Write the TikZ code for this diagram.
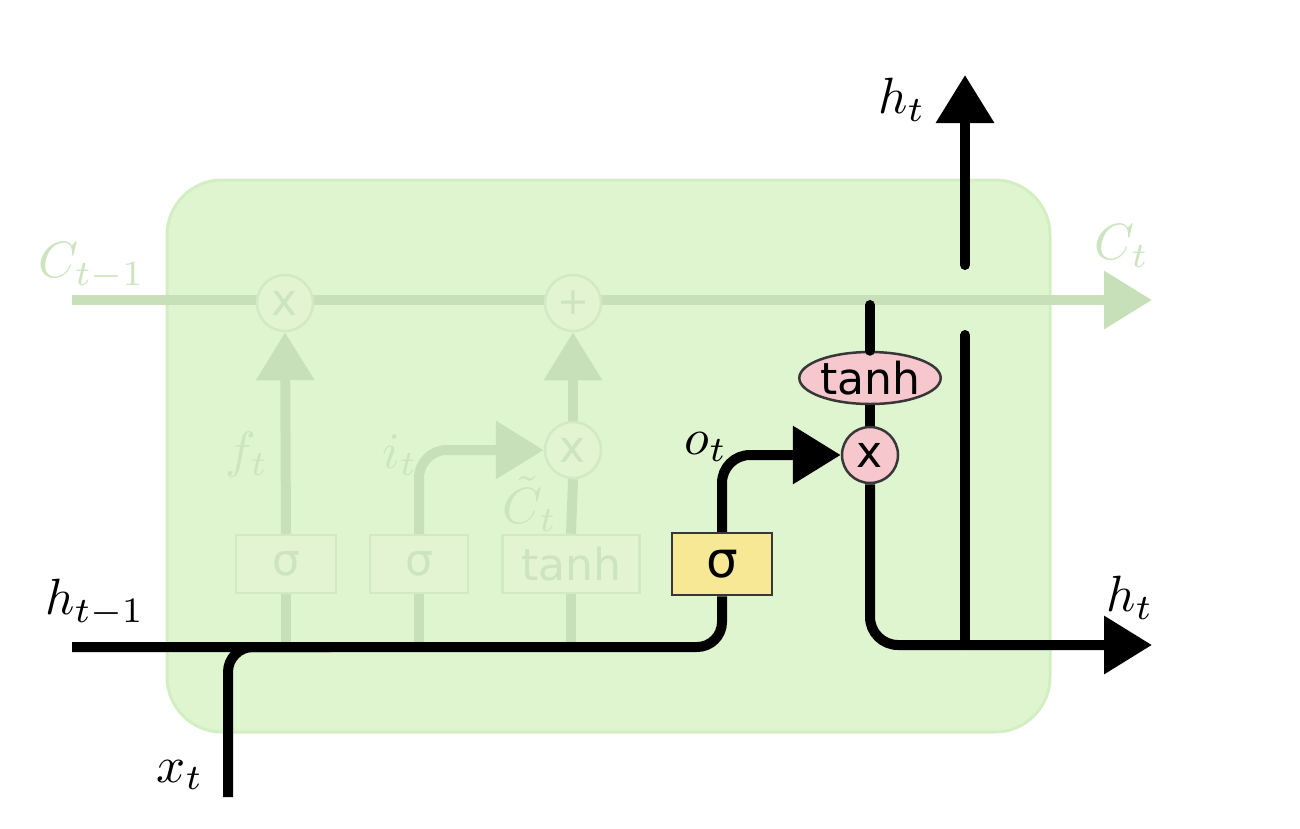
\documentclass[tikz,border=0pt]{standalone}
\usepackage{fontspec}
\newfontfamily\dv{DejaVu Sans}
\usetikzlibrary{arrows.meta,shapes.geometric}
\definecolor{bgfill}{RGB}{223,245,208}
\definecolor{bgdraw}{RGB}{212,238,195}
\definecolor{fadeline}{RGB}{200,224,186}
\definecolor{fadetext}{RGB}{204,228,192}
\definecolor{fadebox}{RGB}{226,244,210}
\definecolor{fadeborder}{RGB}{210,234,196}
\definecolor{gateyellow}{RGB}{246,232,148}
\definecolor{oppink}{RGB}{246,200,206}
\definecolor{edge}{RGB}{55,55,55}
\newcommand\slab{\fontsize{44}{50}\selectfont\dv}
\tikzset{
  blk/.style={line width=10pt, black},
  fad/.style={line width=10pt, fadeline},
  tip/.style={-{Triangle[length=48pt,width=56pt]}},
  cellbox/.style={fill=bgfill, draw=bgdraw, line width=3pt, rounded corners=55pt, minimum width=883pt, minimum height=552pt, inner sep=0pt},
  fadegate/.style={fill=fadebox, draw=fadeborder, line width=2.5pt, minimum height=58pt, inner sep=0pt, text=fadetext, font=\slab},
  fadeop/.style={circle, fill=fadebox, draw=fadeborder, line width=2.5pt, minimum size=56pt, inner sep=0pt, text=fadetext, font=\slab},
  gate/.style={fill=gateyellow, draw=edge, line width=2.5pt, minimum width=100pt, minimum height=62pt, inner sep=0pt, font=\fontsize{50}{56}\selectfont\dv},
  pop/.style={circle, fill=oppink, draw=edge, line width=2.5pt, minimum size=56pt, inner sep=0pt, font=\slab},
  pell/.style={ellipse, fill=oppink, draw=edge, line width=2.5pt, minimum width=137pt, minimum height=52pt, inner sep=0pt, font=\slab},
  lab/.style={scale=5.1, inner sep=0pt},
  fadelab/.style={scale=5.1, inner sep=0pt, text=fadetext},
}
\begin{document}
\begin{tikzpicture}[x=1pt,y=-1pt]
\useasboundingbox (0,0) rectangle (1300,828);
\node[cellbox] (cell) at (608.5,456) {};

% coordinates
\coordinate (cin) at (72,300);
\coordinate (cout) at (1152,300);
\coordinate (hin) at (72,647);
\coordinate (hout) at (1152,645);
\coordinate (xin) at (228,797);
\coordinate (xj) at (330,647);
\coordinate (cj) at (870,305);
\coordinate (hj) at (965,645);
\coordinate (hgapb) at (965,335);
\coordinate (hgapt) at (965,265);
\coordinate (htop) at (965,75);

% faded cell-state line
\draw[fad,tip] (cin) -- (cout);

% faded nodes
\node[fadegate, minimum width=100pt] (fs) at (286,564) {σ};
\node[fadegate, minimum width=98pt] (is) at (419,564) {σ};
\node[fadegate, minimum width=137pt] (ct) at (571,564) {tanh};
\node[fadeop] (fx) at (285,303) {x};
\node[fadeop, font=\fontsize{38}{44}\selectfont\dv] (ad) at (573,303) {+};
\node[fadeop] (ix) at (573,450) {x};

% faded connectors
\draw[fad] (fs.south |- hin) -- (fs.south);
\draw[fad] (is.south |- hin) -- (is.south);
\draw[fad] (ct.south |- hin) -- (ct.south);
\draw[fad,tip] (fs.north) -- (fx.south);
\draw[fad,tip,rounded corners=28pt] (is.north) |- (ix.west);
\draw[fad] (ct.north) -- (ix.south);
\draw[fad,tip] (ix.north) -- (ad.south);

% faded labels
\node[fadelab] (lc0) at (92,266) {$C_{t-1}$};
\node[fadelab] (lc1) at (1122,246) {$C_t$};
\node[fadelab] (lf) at (247,455) {$f_t$};
\node[fadelab] (li) at (400,455) {$i_t$};
\node[fadelab] (lct) at (530,504) {$\tilde{C}_t$};

% active nodes
\node[gate] (os) at (722,564) {σ};
\node[pell] (th) at (870,378) {tanh};
\node[pop] (ox) at (870,455) {x};

% black connectors
\draw[blk,rounded corners=25pt] (hin) -| (os.south);
\draw[blk,rounded corners=25pt] (xin) |- (xj);
\draw[blk,tip,rounded corners=28pt] (os.north) |- (ox.west);
\draw[blk,line cap=round] (cj) -- (th.north);
\draw[blk] (th.south) -- (ox.north);
\draw[blk,tip,rounded corners=28pt] (ox.south) |- (hout);
\draw[blk,line cap=round] (hj) -- (hgapb);
\draw[blk,tip,line cap=round] (hgapt) -- (htop);

% labels
\node[lab] (lh0) at (95,603) {$h_{t-1}$};
\node[lab] (lx) at (180,775) {$x_t$};
\node[lab] (lh1) at (902,100) {$h_t$};
\node[lab] (lh2) at (1130,598) {$h_t$};
\node[lab] (lo) at (706,447) {$o_t$};
\end{tikzpicture}
\end{document}
